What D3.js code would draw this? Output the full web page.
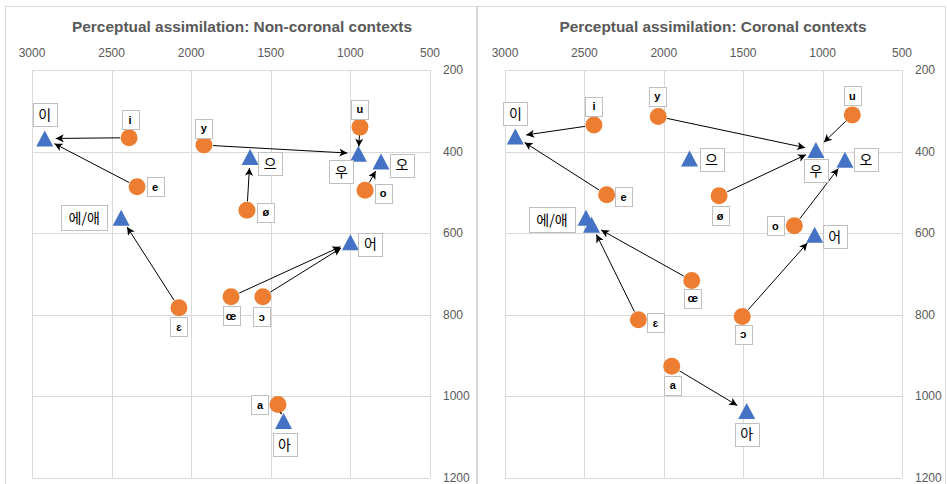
<!DOCTYPE html>
<html>
<head>
  <meta charset="utf-8">
  <title>Perceptual assimilation</title>
  <script src="https://d3js.org/d3.v7.min.js"></script>
  <style>
    body { margin: 0; background: #fff; }
    svg { display: block; }
    .tick-label { font-family: "Liberation Sans", Arial, sans-serif; font-size: 12px; fill: #595959; }
    .title { font-family: "Liberation Sans", Arial, sans-serif; font-size: 15px; font-weight: bold; fill: #595959; }
    .ipa { font-family: "Liberation Sans", "DejaVu Sans", sans-serif; font-size: 11px; font-weight: bold; fill: #000; }
    .kor { font-family: "Noto Sans CJK KR", sans-serif; font-size: 14px; fill: #000; }
  </style>
</head>
<body>
  <script>
    // Data: formant values (F2, F1 in Hz)
    var xTicks = [3000, 2500, 2000, 1500, 1000, 500];
    var yTicks = [200, 400, 600, 800, 1000, 1200];

    // Non-coronal contexts
    var ncStim = ["i", "e", "ɛ", "y", "ø", "œ", "u", "o", "ɔ", "a"];
    var ncStimF2 = [2390, 2340, 2077, 1920, 1650, 1750, 940, 908, 1550, 1455];
    var ncStimF1 = [366, 486, 783, 384, 544, 756, 340, 495, 756, 1020];
    var ncTarget = ["이", "이", "에/애", "우", "으", "어", "우", "오", "어", "아"];
    var ncKor = ["이", "에/애", "으", "우", "오", "어", "아"];
    var ncKorF2 = [2920, 2440, 1630, 950, 808, 1000, 1420];
    var ncKorF1 = [368, 562, 413, 405, 424, 622, 1060];

    // Coronal contexts
    var cStim = ["i", "e", "ɛ", "y", "ø", "œ", "u", "o", "ɔ", "a"];
    var cStimF2 = [2440, 2360, 2160, 2035, 1652, 1824, 813, 1178, 1506, 1950];
    var cStimF1 = [335, 506, 812, 314, 508, 716, 310, 582, 804, 926];
    var cTarget = ["이", "이", "애", "우", "우", "애", "우", "오", "어", "아"];
    var cKor = ["이", "에", "애", "으", "우", "오", "어", "아"];
    var cKorText = ["이", "에/애", "", "으", "우", "오", "어", "아"];
    var cKorF2 = [2935, 2490, 2455, 1838, 1042, 859, 1050, 1478];
    var cKorF1 = [363, 562, 579, 417, 396, 420, 604, 1036];

    // label box offsets from the marker (layout only)
    var ncLabelPos = {
      "i": [1, -18], "e": [18, 0], "ɛ": [0, 19], "y": [0, -17], "ø": [19, 2], "œ": [0, 19],
      "u": [0, -18], "o": [18, 3], "ɔ": [-1, 20], "a": [-18, 0],
      "이": [0, -24], "에/애": [-37, 0], "으": [20, 7], "우": [-17, 18], "오": [21, 4], "어": [20, 2], "아": [1, 24]
    };
    var cLabelPos = {
      "i": [0, -19], "e": [17, 2], "ɛ": [17, 3], "y": [-1, -20], "ø": [1, 20], "œ": [1, 18],
      "u": [0, -19], "o": [-19, 0], "ɔ": [1, 18], "a": [1, 19],
      "이": [0, -23], "에/애": [-34, 2], "으": [22, 1], "우": [0, 21], "오": [21, 0], "어": [20, 2], "아": [0, 23]
    };

    var W = 947, H = 484;
    var svg = d3.select("body").append("svg")
      .attr("width", W)
      .attr("height", H);

    svg.append("defs").append("marker")
      .attr("id", "arrow")
      .attr("viewBox", "0 0 10 10")
      .attr("refX", 10)
      .attr("refY", 5)
      .attr("markerUnits", "userSpaceOnUse")
      .attr("markerWidth", 9)
      .attr("markerHeight", 8)
      .attr("orient", "auto")
      .append("path")
      .attr("d", "M0,0 L10,5 L0,10 L2.5,5 Z")
      .attr("fill", "#000");

    // chart frames
    svg.append("rect").attr("x", 5.5).attr("y", 6.5).attr("width", 471).attr("height", 490)
      .attr("fill", "#fff").attr("stroke", "#d9d9d9");
    svg.append("rect").attr("x", 477.5).attr("y", 6.5).attr("width", 468).attr("height", 490)
      .attr("fill", "#fff").attr("stroke", "#d9d9d9");

    drawPanel({
      title: "Perceptual assimilation: Non-coronal contexts",
      titleX: 242, titleLen: 340,
      x0: 32, x1: 430, yLabelX: 443,
      stim: ncStim, stimF2: ncStimF2, stimF1: ncStimF1, target: ncTarget,
      kor: ncKor, korText: ncKor, korF2: ncKorF2, korF1: ncKorF1,
      labelPos: ncLabelPos
    });

    drawPanel({
      title: "Perceptual assimilation: Coronal contexts",
      titleX: 713, titleLen: 307,
      x0: 505, x1: 902, yLabelX: 915,
      stim: cStim, stimF2: cStimF2, stimF1: cStimF1, target: cTarget,
      kor: cKor, korText: cKorText, korF2: cKorF2, korF1: cKorF1,
      labelPos: cLabelPos
    });

    function drawPanel(p) {
      var g = svg.append("g");
      var x = d3.scaleLinear().domain([3000, 500]).range([p.x0, p.x1]);
      var y = d3.scaleLinear().domain([200, 1200]).range([70, 478]);

      g.append("text")
        .attr("class", "title")
        .attr("x", p.titleX)
        .attr("y", 32)
        .attr("text-anchor", "middle")
        .attr("textLength", p.titleLen)
        .attr("lengthAdjust", "spacingAndGlyphs")
        .text(p.title);

      // gridlines
      g.selectAll(".vgrid").data(xTicks).enter().append("line")
        .attr("x1", function(d) { return Math.round(x(d)) + 0.5; })
        .attr("x2", function(d) { return Math.round(x(d)) + 0.5; })
        .attr("y1", y(200)).attr("y2", y(1200))
        .attr("stroke", "#d9d9d9");
      g.selectAll(".hgrid").data(yTicks).enter().append("line")
        .attr("y1", function(d) { return Math.round(y(d)) + 0.5; })
        .attr("y2", function(d) { return Math.round(y(d)) + 0.5; })
        .attr("x1", x(3000)).attr("x2", x(500))
        .attr("stroke", "#d9d9d9");

      // tick labels
      g.selectAll(".xl").data(xTicks).enter().append("text")
        .attr("class", "tick-label")
        .attr("x", function(d) { return x(d); })
        .attr("y", 57)
        .attr("text-anchor", "middle")
        .text(function(d) { return d; });
      g.selectAll(".yl").data(yTicks).enter().append("text")
        .attr("class", "tick-label")
        .attr("x", p.yLabelX)
        .attr("y", function(d) { return y(d) + 4; })
        .text(function(d) { return d; });

      // arrows from stimulus vowel to Korean category
      p.stim.forEach(function(s, i) {
        var k = p.kor.indexOf(p.target[i]);
        if (k < 0) return;
        var sx = x(p.stimF2[i]), sy = y(p.stimF1[i]);
        var tx = x(p.korF2[k]), ty = y(p.korF1[k]);
        var dx = tx - sx, dy = ty - sy, len = Math.sqrt(dx * dx + dy * dy);
        var a = len < 30 ? 3 : 9, b = len < 30 ? 7 : 11;
        g.append("line")
          .attr("x1", sx + dx / len * a).attr("y1", sy + dy / len * a)
          .attr("x2", tx - dx / len * b).attr("y2", ty - dy / len * b)
          .attr("stroke", "#000")
          .attr("stroke-width", 1)
          .attr("marker-end", "url(#arrow)");
      });

      // Korean categories (triangles)
      g.selectAll(".tri").data(p.kor).enter().append("path")
        .attr("transform", function(d, i) { return "translate(" + x(p.korF2[i]) + "," + y(p.korF1[i]) + ")"; })
        .attr("d", "M0,-8 L8.5,8 L-8.5,8 Z")
        .attr("fill", "#4472c4");

      // stimulus vowels (circles)
      g.selectAll(".dot").data(p.stim).enter().append("circle")
        .attr("cx", function(d, i) { return x(p.stimF2[i]); })
        .attr("cy", function(d, i) { return y(p.stimF1[i]); })
        .attr("r", 8.5)
        .attr("fill", "#ed7d31");

      // labels
      p.stim.forEach(function(s, i) {
        addLabel(g, s, x(p.stimF2[i]), y(p.stimF1[i]), p.labelPos[s], "ipa", 17, 19);
      });
      p.korText.forEach(function(s, i) {
        if (!s) return;
        var w = s.length > 1 ? 46 : 24;
        addLabel(g, s, x(p.korF2[i]), y(p.korF1[i]), p.labelPos[s], "kor", w, s.length > 1 ? 25 : 23);
      });
    }

    function addLabel(g, txt, px, py, off, cls, w, h) {
      var cx = px + off[0], cy = py + off[1];
      g.append("rect")
        .attr("x", Math.round(cx - w / 2) + 0.5)
        .attr("y", Math.round(cy - h / 2) + 0.5)
        .attr("width", w)
        .attr("height", h)
        .attr("fill", "#fff")
        .attr("stroke", "#bfbfbf");
      g.append("text")
        .attr("class", cls)
        .attr("x", cx)
        .attr("y", cy)
        .attr("dy", "0.36em")
        .attr("text-anchor", "middle")
        .text(txt);
    }
  </script>
</body>
</html>
